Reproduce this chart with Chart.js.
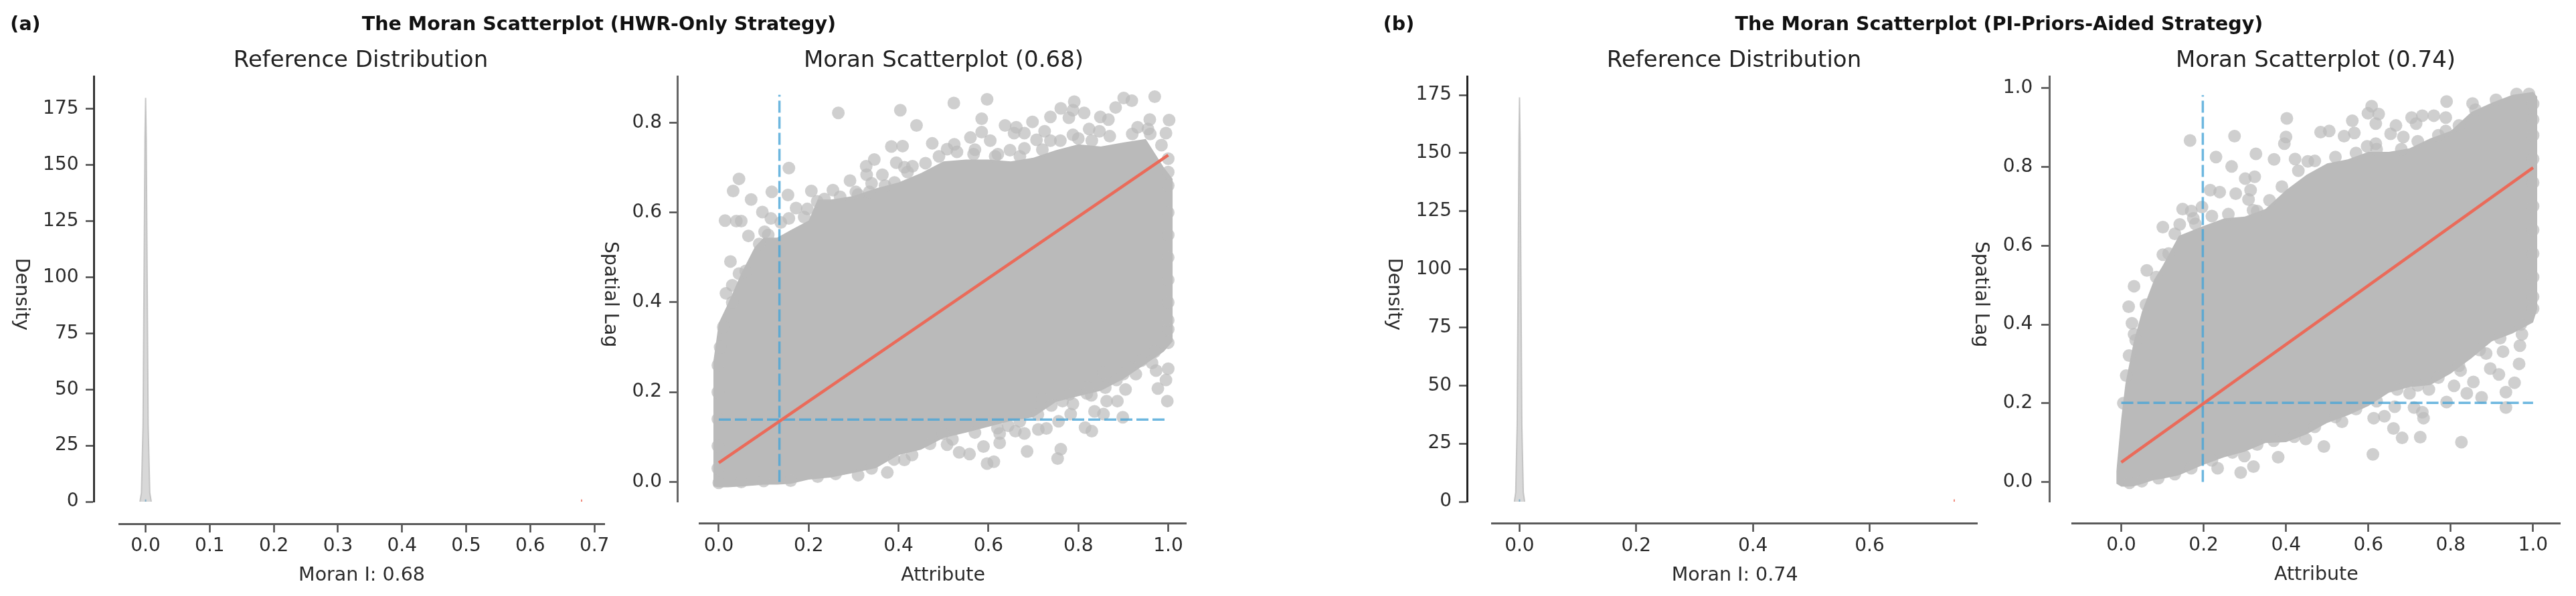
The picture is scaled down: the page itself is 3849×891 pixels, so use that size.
<!DOCTYPE html>
<html>
<head>
<meta charset="utf-8">
<title>Moran Scatterplots</title>
<script src="https://cdn.jsdelivr.net/npm/chart.js@4"></script>
<style>
  html, body { margin: 0; padding: 0; background: #fff; }
  #page { position: relative; width: 3849px; height: 891px; overflow: hidden; filter: blur(0.7px); }
  canvas { position: absolute; top: 0; }
  .label { position: absolute; transform: translate(-50%, -50%); white-space: nowrap; font-family: "DejaVu Sans"; color: #222; }
  .sup { font-size: 28.5px; font-weight: bold; color: #111; }
  .ttl { font-size: 34px; }
</style>
</head>
<body>
<div id="page"></div>
<script>
// tick labels
const distAXTicks = [0, 0.1, 0.2, 0.3, 0.4, 0.5, 0.6, 0.7];
const distBXTicks = [0, 0.2, 0.4, 0.6];
const densityTicks = [0, 25, 50, 75, 100, 125, 150, 175];
const attributeTicks = [0, 0.2, 0.4, 0.6, 0.8, 1];
const lagATicks = [0, 0.2, 0.4, 0.6, 0.8];
const lagBTicks = [0, 0.2, 0.4, 0.6, 0.8, 1];

// reference distribution (spike near zero)
const kdeX = [-0.0088, -0.0065, -0.004, -0.002, -0.001, 0, 0.001, 0.002, 0.004, 0.0065, 0.0088];
const kdeAY = [0, 4, 34, 118, 162, 180, 162, 118, 34, 4, 0];
const kdeBY = [0, 4, 33, 114, 156, 174, 156, 114, 33, 4, 0];
const moranA = 0.68;
const moranB = 0.745;

// regression lines and means
const fitA = [0.0425, 0.728];
const fitB = [0.05, 0.798];
const meanAX = 0.135, meanAY = 0.139, meanATop = 0.862;
const meanBX = 0.198, meanBY = 0.201, meanBTop = 0.982;

// solid body of the cloud, upper and lower edge read per attribute value
const bodyAX = [-0.012, 0, 0.02, 0.05, 0.08, 0.1, 0.13, 0.16, 0.2, 0.22, 0.25, 0.3, 0.35, 0.4, 0.45, 0.5, 0.55, 0.6, 0.65, 0.7, 0.75, 0.8, 0.85, 0.9, 0.95, 0.99, 1.01];
const bodyAUpper = [0.269, 0.354, 0.396, 0.464, 0.523, 0.544, 0.544, 0.561, 0.582, 0.629, 0.629, 0.637, 0.654, 0.667, 0.688, 0.714, 0.718, 0.718, 0.714, 0.722, 0.739, 0.752, 0.747, 0.756, 0.764, 0.701, 0.675];
const bodyALower = [-0.01, -0.012, -0.012, -0.01, -0.008, -0.006, -0.006, -0.004, 0.005, 0.007, 0.01, 0.02, 0.031, 0.06, 0.072, 0.098, 0.11, 0.123, 0.136, 0.144, 0.178, 0.191, 0.203, 0.229, 0.263, 0.29, 0.313];

const bodyBX = [-0.012, 0, 0.01, 0.03, 0.05, 0.08, 0.1, 0.14, 0.2, 0.25, 0.3, 0.35, 0.4, 0.45, 0.5, 0.55, 0.6, 0.65, 0.7, 0.75, 0.8, 0.85, 0.9, 0.95, 1, 1.01];
const bodyBUpper = [0.027, 0.162, 0.249, 0.355, 0.432, 0.514, 0.548, 0.625, 0.65, 0.669, 0.674, 0.693, 0.741, 0.78, 0.809, 0.819, 0.838, 0.838, 0.847, 0.872, 0.891, 0.939, 0.963, 0.983, 0.99, 0.978];
const bodyBLower = [-0.004, -0.012, -0.012, -0.011, -0.005, 0.005, 0.008, 0.017, 0.044, 0.063, 0.077, 0.099, 0.101, 0.121, 0.15, 0.169, 0.193, 0.227, 0.241, 0.246, 0.275, 0.314, 0.357, 0.377, 0.405, 0.439];

// separately visible dots
const dotsA = [
  [.266,.822],[.404,.828],[.523,.844],[.597,.852],[.44,.794],[.585,.809],[.637,.794],[.97,.858],[.901,.855],[.919,.849],
  [.791,.847],[.761,.832],[.788,.828],[.813,.822],[.883,.834],[.738,.813],[.779,.811],[.849,.813],[.867,.807],[1.002,.806],
  [.995,.777],[.824,.786],[.847,.781],[.932,.79],[.959,.807],[.955,.786],[.698,.802],[.662,.79],[.725,.781],[.68,.777],
  [.657,.777],[.585,.779],[.56,.767],[.604,.76],[.475,.754],[.384,.747],[.409,.748],[.524,.752],[.508,.741],[.567,.73],
  [.621,.73],[.648,.739],[.68,.743],[.707,.762],[.738,.76],[.788,.773],[.346,.718],[.328,.703],[.395,.711],[.413,.701],
  [.431,.703],[.329,.684],[.364,.684],[.156,.699],[.045,.675],[.032,.648],[.072,.629],[.118,.646],[.154,.639],[.206,.648],
  [.254,.65],[.292,.671],[.305,.646],[.335,.646],[.097,.601],[.014,.582],[.039,.581],[.05,.581],[.116,.587],[.138,.578],
  [.156,.587],[.172,.61],[.197,.608],[.066,.548],[.102,.557],[.026,.491],[.045,.464],[.03,.438],[.016,.42],[.219,.625],[.391,.667],
  [.375,.021],[.413,.049],[.535,.066],[.558,.062],[.589,.079],[.625,.087],[.597,.041],[.612,.045],[.686,.068],[.754,.052],
  [.761,.073],[.66,.113],[.68,.108],[.711,.117],[.729,.119],[.756,.135],[.815,.121],[.83,.113],[.836,.157],[.783,.151],
  [.856,.151],[.899,.144],[.863,.18],[.887,.18],[.998,.18],[.788,.174],[.765,.18],[.72,.185],[.819,.197],[.829,.193],
  [.905,.206],[.977,.208],[.885,.227],[.995,.227],[1,.252],[.964,.265],[.928,.24],[.856,.244],[.91,.256],[.973,.248],
  [.508,.083],[.625,.108],[.644,.125],[.499,.108],
  // along the edge of the body
  [.03,.4],[.06,.47],[.09,.53],[.11,.55],[.19,.59],[.235,.63],[.27,.635],[.31,.64],[.34,.665],[.37,.66],[.42,.69],[.46,.71],
  [.49,.725],[.53,.735],[.57,.74],[.615,.725],[.67,.725],[.72,.74],[.76,.76],[.8,.765],[.83,.76],[.87,.77],[.92,.775],[.96,.775],
  [.985,.75],[1.0,.72],[1.0,.69],[1.0,.66],[.31,.015],[.34,.03],[.39,.05],[.43,.06],[.47,.085],[.52,.095],[.57,.11],[.62,.12],
  [.67,.135],[.71,.15],[.74,.17],[.78,.195],[.82,.21],[.86,.21],[.9,.24],[.94,.27],[.97,.29],[1.0,.31],[1.0,.34],[0,-.002],
  [.05,0],[.1,.002],[.16,.003],[.22,.012],[.26,.018],[-.002,.26],[-.002,.2],[-.002,.14],[-.002,.08],[-.002,.03],[.003,.3],[.01,.345],
  [1.0,.6],[1.0,.55],[1.0,.5],[1.0,.45],[1.0,.4],[1.0,.36]
];
const dotsB = [
  [.167,.867],[.275,.878],[.23,.825],[.268,.801],[.327,.833],[.402,.923],[.4,.876],[.396,.859],[.371,.819],[.422,.82],
  [.453,.814],[.484,.888],[.505,.891],[.541,.878],[.561,.917],[.608,.954],[.599,.936],[.625,.934],[.618,.91],[.566,.886],
  [.667,.905],[.654,.884],[.685,.876],[.705,.925],[.731,.93],[.716,.91],[.759,.93],[.788,.925],[.79,.966],[.853,.961],
  [.788,.891],[.618,.859],[.597,.852],[.301,.77],[.324,.775],[.314,.741],[.216,.741],[.239,.736],[.278,.732],[.309,.717],
  [.33,.688],[.149,.693],[.17,.688],[.196,.698],[.175,.669],[.142,.654],[.101,.647],[.101,.577],[.062,.537],[.031,.497],
  [.018,.445],[.026,.403],[.031,.375],[.019,.321],[.381,.063],[.321,.039],[.29,.024],[.234,.035],[.299,.066],[.492,.09],
  [.448,.109],[.611,.07],[.661,.136],[.682,.112],[.726,.114],[.826,.101],[.734,.162],[.731,.177],[.711,.189],[.664,.191],
  [.639,.167],[.613,.162],[.536,.153],[.79,.203],[.934,.189],[.875,.215],[.839,.225],[.808,.244],[.855,.254],[.934,.228],
  [.955,.252],[.966,.3],[.917,.273],[.896,.288],[.824,.283],[.886,.326],[.927,.331],[.968,.346],[.973,.375],[.747,.235],[.7,.225],
  // along the edge of the body
  [.005,.2],[.012,.27],[.035,.36],[.06,.45],[.085,.52],[.115,.58],[.13,.63],[.18,.655],[.22,.675],[.26,.68],[.32,.69],[.36,.715],
  [.39,.75],[.43,.79],[.47,.815],[.52,.825],[.57,.835],[.62,.845],[.68,.845],[.72,.865],[.77,.88],[.82,.905],[.86,.945],[.91,.97],
  [.96,.985],[.99,.985],[1.0,.96],[1.0,.92],[.02,-.002],[.05,.002],[.09,.01],[.13,.02],[.17,.035],[.22,.055],[.27,.075],[.33,.095],
  [.37,.105],[.42,.115],[.47,.14],[.52,.165],[.57,.185],[.62,.205],[.67,.235],[.72,.245],[.77,.265],[.82,.295],[.87,.335],[.92,.365],
  [.97,.4],[1.0,.44],[1.0,.88],[1.0,.82],[1.0,.76],[1.0,.7],[1.0,.64],[1.0,.58],[1.0,.52],[1.0,.47]
];

const GREY = '#bababa';
const FONT = 'DejaVu Sans';
const TEXT = '#2b2b2b';
const page = document.getElementById('page');

function addLabel(text, x, y, cls) {
  const el = document.createElement('div');
  el.className = 'label ' + cls;
  el.textContent = text;
  el.style.left = x + 'px';
  el.style.top = y + 'px';
  page.appendChild(el);
}

function toPoints(xs, ys) {
  return xs.map((x, i) => ({ x: x, y: ys[i] }));
}

function xAxis(o) {
  return {
    type: 'linear', min: o.min, max: o.max, position: { y: o.at },
    afterBuildTicks: scale => { scale.ticks = o.ticks.map(v => ({ value: v })); },
    ticks: { autoSkip: false, maxRotation: 0, color: TEXT, padding: 6, font: { family: FONT, size: 28 }, callback: v => Number(v).toFixed(1) },
    grid: { drawOnChartArea: false, tickLength: 11, tickColor: '#4a4a4a', tickWidth: 2.5 },
    border: { color: '#5a5a5a', width: 3 },
    title: { display: true, text: o.title, color: TEXT, padding: { top: 4, bottom: 0 }, font: { family: FONT, size: 28.5 } }
  };
}

// spine and tick marks sit on one scale
function ySpine(o) {
  return {
    type: 'linear', min: o.min, max: o.max, position: { x: o.at },
    afterBuildTicks: scale => { scale.ticks = o.ticks.map(v => ({ value: v })); },
    ticks: { display: false },
    grid: { drawOnChartArea: false, tickLength: 11, tickColor: '#4a4a4a', tickWidth: 2.5 },
    border: { color: o.spine, width: 3 }
  };
}

// labels are pushed further left on a twin scale, a value-positioned axis ignores tick padding
function yLabels(o) {
  return {
    type: 'linear', min: o.min, max: o.max, position: { x: o.labelAt },
    afterBuildTicks: scale => { scale.ticks = o.ticks.map(v => ({ value: v })); },
    ticks: { autoSkip: false, color: TEXT, padding: 4, font: { family: FONT, size: 28 }, callback: o.format },
    grid: { display: false },
    border: { display: false },
    title: { display: true, text: o.title, color: TEXT, padding: { top: 0, bottom: 4 }, font: { family: FONT, size: 28.5 } }
  };
}

// the reference y titles sit a bit below the middle of the spine
const lowerYTitle = {
  id: 'lowerYTitle',
  afterLayout(chart) {
    chart.scales.yTickLabels.bottom = chart.chartArea.bottom + 16;
  }
};

function makeChart(cfg) {
  const canvas = document.createElement('canvas');
  canvas.width = cfg.canvasWidth;
  canvas.height = 891;
  canvas.style.left = cfg.canvasLeft + 'px';
  canvas.style.width = cfg.canvasWidth + 'px';
  canvas.style.height = '891px';
  page.appendChild(canvas);
  return new Chart(canvas, {
    type: 'scatter',
    data: { datasets: cfg.datasets },
    plugins: [lowerYTitle],
    options: {
      responsive: false,
      animation: false,
      layout: { padding: { left: cfg.plot[0] - cfg.canvasLeft, right: cfg.canvasLeft + cfg.canvasWidth - cfg.plot[1], top: 114, bottom: 891 - 750 } },
      plugins: { legend: { display: false }, title: { display: false }, tooltip: { enabled: false } },
      scales: { x: xAxis(cfg.x), y: ySpine(cfg.y), yTickLabels: yLabels(cfg.y) }
    }
  });
}

function distDatasets(kdeY, moran) {
  return [
    { data: toPoints(kdeX, kdeY), showLine: true, fill: 'origin', backgroundColor: 'rgba(190,190,190,0.6)', borderColor: 'rgba(186,186,186,0.8)', borderWidth: 2, pointRadius: 0, tension: 0 },
    { data: toPoints([moran, moran], [0, 1]), showLine: true, borderColor: '#f08a7c', borderWidth: 2, pointRadius: 0 },
    { data: toPoints([0, 0], [0, 1]), showLine: true, borderColor: '#2b9ad6', borderWidth: 2, pointRadius: 0 }
  ];
}

function scatterDatasets(bodyX, upper, lower, dots, fit, mx, my, top) {
  const blue = 'rgba(72,165,215,0.8)';
  return [
    { order: 1, data: toPoints([0, 1], fit), showLine: true, borderColor: '#ea6b5a', borderWidth: 4.5, pointRadius: 0 },
    { order: 2, data: toPoints([mx, mx], [0, top]), showLine: true, borderColor: blue, borderWidth: 3.5, borderDash: [18, 6], pointRadius: 0 },
    { order: 2, data: toPoints([0, 1], [my, my]), showLine: true, borderColor: blue, borderWidth: 3.5, borderDash: [18, 6], pointRadius: 0 },
    { order: 3, data: dots.map(d => ({ x: d[0], y: d[1] })), pointRadius: 9.5, pointBorderWidth: 0, backgroundColor: 'rgba(186,186,186,0.7)', clip: false },
    { order: 4, data: toPoints(bodyX, upper), showLine: true, fill: '+1', backgroundColor: GREY, borderWidth: 0, pointRadius: 0, tension: 0 },
    { order: 5, data: toPoints(bodyX, lower), showLine: true, borderWidth: 0, pointRadius: 0, tension: 0 }
  ];
}

const fmt1 = v => Number(v).toFixed(1);
const fmt0 = v => String(v);

makeChart({
  canvasLeft: 0, canvasWidth: 960, plot: [178, 903],
  datasets: distDatasets(kdeAY, moranA),
  x: { min: -0.0413, max: 0.7155, ticks: distAXTicks, at: -9.85, title: 'Moran I: 0.68' },
  y: { min: 0, max: 189.6, ticks: densityTicks, format: fmt0, at: -0.0804, labelAt: -0.1044, spine: '#333', title: 'Density' }
});
makeChart({
  canvasLeft: 880, canvasWidth: 920, plot: [1045.5, 1772.7],
  datasets: scatterDatasets(bodyAX, bodyAUpper, bodyALower, dotsA, fitA, meanAX, meanAY, meanATop),
  x: { min: -0.0424, max: 1.0405, ticks: attributeTicks, at: -0.0924, title: 'Attribute' },
  y: { min: -0.044, max: 0.9035, ticks: lagATicks, format: fmt1, at: -0.0913, labelAt: -0.1266, spine: '#666', title: 'Spatial Lag' }
});
makeChart({
  canvasLeft: 2050, canvasWidth: 920, plot: [2229.7, 2954.5],
  datasets: distDatasets(kdeBY, moranB),
  x: { min: -0.0467, max: 0.7846, ticks: distBXTicks, at: -9.45, title: 'Moran I: 0.74' },
  y: { min: 0, max: 183.1, ticks: densityTicks, format: fmt0, at: -0.0895, labelAt: -0.1163, spine: '#222', title: 'Density' }
});
makeChart({
  canvasLeft: 2930, canvasWidth: 919, plot: [3096.7, 3825],
  datasets: scatterDatasets(bodyBX, bodyBUpper, bodyBLower, dotsB, fitB, meanBX, meanBY, meanBTop),
  x: { min: -0.1184, max: 1.0652, ticks: attributeTicks, at: -0.105, title: 'Attribute' },
  y: { min: -0.05, max: 1.03, ticks: lagBTicks, format: fmt1, at: -0.174, labelAt: -0.2149, spine: '#666', title: 'Spatial Lag' }
});

addLabel('(a)', 38, 35, 'sup');
addLabel('(b)', 2090, 35, 'sup');
addLabel('The Moran Scatterplot (HWR-Only Strategy)', 895, 35, 'sup');
addLabel('The Moran Scatterplot (PI-Priors-Aided Strategy)', 2987, 35, 'sup');
addLabel('Reference Distribution', 539, 88, 'ttl');
addLabel('Moran Scatterplot (0.68)', 1410, 88, 'ttl');
addLabel('Reference Distribution', 2591, 88, 'ttl');
addLabel('Moran Scatterplot (0.74)', 3460, 88, 'ttl');
</script>
</body>
</html>
